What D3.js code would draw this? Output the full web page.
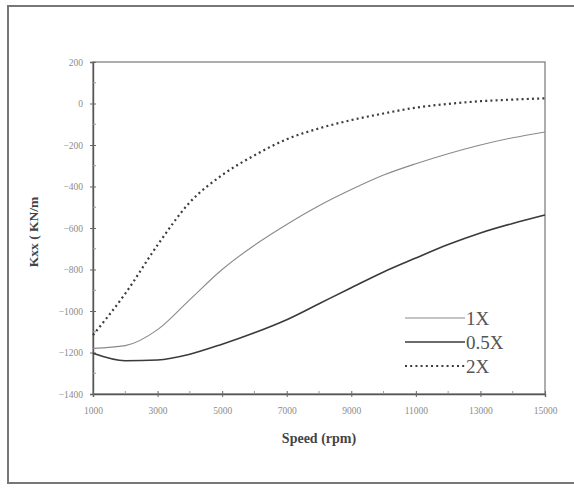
<!DOCTYPE html>
<html>
<head>
<meta charset="utf-8">
<script src="https://cdn.jsdelivr.net/npm/d3@7/dist/d3.min.js"></script>
<style>
  html, body { margin: 0; padding: 0; background: #fff; }
  svg { display: block; }
</style>
</head>
<body>
<svg id="chart" width="574" height="489"></svg>
<script>
// Rotor speed (rpm) and direct stiffness Kxx (kN/m) for three bearing cases
const speeds = [1000, 2000, 3000, 4000, 5000, 6000, 7000, 8000, 9000, 10000, 11000, 12000, 13000, 14000, 15000];
const kxx1X   = [-1180, -1167, -1090, -945, -800, -683, -583, -493, -415, -345, -290, -242, -200, -165, -137];
const kxx05X  = [-1204, -1240, -1236, -1208, -1160, -1105, -1042, -965, -888, -812, -745, -680, -624, -578, -537];
const kxx2X   = [-1116, -916, -682, -476, -345, -250, -172, -120, -80, -48, -20, -2, 11, 19, 25];

const xTicks = [1000, 3000, 5000, 7000, 9000, 11000, 13000, 15000];
const yTicks = [200, 0, -200, -400, -600, -800, -1000, -1200, -1400];

const seriesNames = ["1X", "0.5X", "2X"];
const seriesData = [kxx1X, kxx05X, kxx2X];
const seriesStyle = [
  { stroke: "#8a8a8a", width: 1.1, dash: null },
  { stroke: "#3a3a3a", width: 1.6, dash: null },
  { stroke: "#3c3c3c", width: 2.2, dash: "2,3.2" }
];

const svg = d3.select("#chart");
const serif = "'Liberation Serif', 'DejaVu Serif', serif";

// outer frame (right edge runs off the page)
svg.append("rect")
  .attr("x", 8).attr("y", 6).attr("width", 572).attr("height", 477)
  .attr("fill", "none").attr("stroke", "#777").attr("stroke-width", 2);

const plotL = 93, plotR = 545, plotT = 62, plotB = 394;
const x = d3.scaleLinear().domain([1000, 15000]).range([plotL, plotR]);
const y = d3.scaleLinear().domain([-1400, 200]).range([plotB, plotT]);

// plot border
svg.append("rect")
  .attr("x", plotL).attr("y", plotT).attr("width", plotR - plotL).attr("height", plotB - plotT)
  .attr("fill", "none").attr("stroke", "#777").attr("stroke-width", 1.2);

// y axis
const yAxis = svg.append("g").attr("transform", `translate(${plotL},0)`)
  .call(d3.axisLeft(y).tickValues(yTicks).tickSize(3).tickPadding(7).tickFormat(d3.format("d")));
yAxis.select(".domain").attr("stroke", "#555").attr("stroke-width", 1.4);
yAxis.selectAll(".tick line").attr("stroke", "#666").attr("x2", 3).attr("x1", -3);
yAxis.selectAll(".tick text").attr("font-family", serif).attr("font-size", 9.5).attr("fill", "#8c8c8c");

// minor y ticks
svg.append("g").selectAll("line")
  .data(d3.range(-1300, 200, 200))
  .join("line")
  .attr("x1", plotL).attr("x2", plotL + 3)
  .attr("y1", d => y(d)).attr("y2", d => y(d))
  .attr("stroke", "#999");

// x axis
const xAxis = svg.append("g").attr("transform", `translate(0,${plotB})`)
  .call(d3.axisBottom(x).tickValues(xTicks).tickSize(3).tickPadding(10).tickFormat(d3.format("d")));
xAxis.select(".domain").attr("stroke", "#555").attr("stroke-width", 1.4);
xAxis.selectAll(".tick line").attr("stroke", "#666").attr("y1", -3).attr("y2", 3);
xAxis.selectAll(".tick text").attr("font-family", serif).attr("font-size", 9.5).attr("fill", "#8c8c8c");

// minor x ticks
svg.append("g").selectAll("line")
  .data(d3.range(2000, 15000, 2000))
  .join("line")
  .attr("x1", d => x(d)).attr("x2", d => x(d))
  .attr("y1", plotB).attr("y2", plotB - 3)
  .attr("stroke", "#999");

// curves
const line = d3.line()
  .x((d, i) => x(speeds[i]))
  .y(d => y(d))
  .curve(d3.curveMonotoneX);

seriesData.forEach((vals, k) => {
  const s = seriesStyle[k];
  const p = svg.append("path")
    .datum(vals)
    .attr("d", line)
    .attr("fill", "none")
    .attr("stroke", s.stroke)
    .attr("stroke-width", s.width);
  if (s.dash) p.attr("stroke-dasharray", s.dash);
});

// legend
const legend = svg.append("g");
const legendY = [318, 342, 366];
seriesNames.forEach((name, k) => {
  const s = seriesStyle[k];
  const l = legend.append("line")
    .attr("x1", 405).attr("x2", 465)
    .attr("y1", legendY[k]).attr("y2", legendY[k])
    .attr("stroke", s.stroke).attr("stroke-width", s.width);
  if (s.dash) l.attr("stroke-dasharray", s.dash);
  legend.append("text")
    .attr("x", 466).attr("y", legendY[k] + 7)
    .attr("font-family", serif).attr("font-size", 19).attr("fill", "#555")
    .text(name);
});

// axis titles
svg.append("text")
  .attr("transform", "translate(38,232) rotate(-90)")
  .attr("text-anchor", "middle")
  .attr("font-family", serif).attr("font-size", 13.5).attr("font-weight", "bold").attr("fill", "#444")
  .text("Kxx ( KN/m");

svg.append("text")
  .attr("x", 319).attr("y", 443)
  .attr("text-anchor", "middle")
  .attr("font-family", serif).attr("font-size", 14).attr("font-weight", "bold").attr("fill", "#444")
  .text("Speed (rpm)");
</script>
</body>
</html>
